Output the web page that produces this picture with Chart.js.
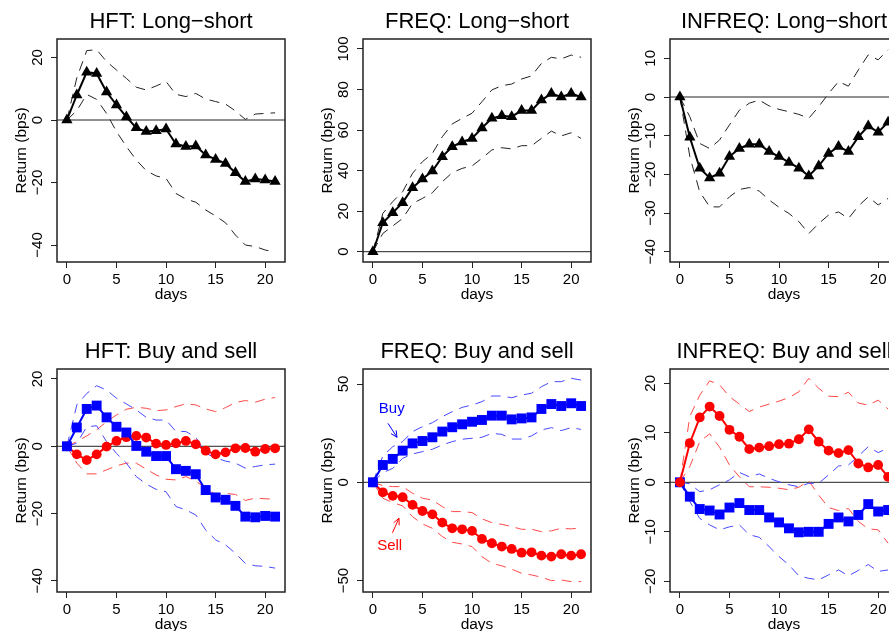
<!DOCTYPE html>
<html>
<head>
<meta charset="utf-8">
<script src="https://cdn.jsdelivr.net/npm/chart.js@4.4.1/dist/chart.umd.min.js"></script>
<style>
  html, body { margin: 0; padding: 0; background: #fff; overflow: hidden; }
  body { width: 889px; height: 631px; position: relative; }
  canvas { position: absolute; }
</style>
</head>
<body>
<canvas id="hftLS" width="300" height="320" style="left:0px;top:0px"></canvas>
<canvas id="freqLS" width="300" height="320" style="left:306px;top:0px"></canvas>
<canvas id="infreqLS" width="300" height="320" style="left:613px;top:0px"></canvas>
<canvas id="hftBS" width="300" height="301" style="left:0px;top:330px"></canvas>
<canvas id="freqBS" width="300" height="301" style="left:306px;top:330px"></canvas>
<canvas id="infreqBS" width="300" height="301" style="left:613px;top:330px"></canvas>
<script>
// days after the event
const days = [0, 1, 2, 3, 4, 5, 6, 7, 8, 9, 10, 11, 12, 13, 14, 15, 16, 17, 18, 19, 20, 21];
const dayTicks = [0, 5, 10, 15, 20];

// HFT: long-short (mean, upper and lower band)
const hftLS = [0, 8, 15.3, 14.9, 9, 4.8, 1, -2.5, -3.7, -3.4, -2.9, -7.7, -8.5, -8.3, -11.2, -12.6, -13.9, -16.9, -19.7, -18.9, -19.2, -19.7];
const hftLSUp = [0, 13.5, 22.2, 22.5, 18.7, 16, 13.3, 10.5, 9.6, 10.9, 12.3, 8.2, 7.5, 8.5, 6.7, 5.9, 5.1, 2.9, 0.2, 1.9, 2.1, 2.3];
const hftLSLo = [0, 3, 8.2, 6.6, 2.1, -3.7, -8.5, -12.8, -16.2, -17.9, -18.7, -23.5, -25.3, -26.3, -28.8, -30.7, -32.9, -36.8, -40, -40.5, -41.6, -42.3];
const hftLSTicks = [-40, -20, 0, 20];

// FREQ: long-short
const freqLS = [0, 14.3, 19.2, 24.2, 31.6, 35.9, 39.8, 46.9, 51.8, 54.1, 55.9, 61, 65.8, 67.1, 66.6, 69.6, 69.7, 74.8, 78, 76.3, 78, 76.3];
const freqLSUp = [0, 18.9, 24.7, 29.6, 38.7, 44.4, 48.5, 56.7, 63, 65.8, 68.3, 74, 79.8, 81.9, 82.7, 85.2, 86.7, 92.9, 95.9, 95.1, 97, 95.9];
const freqLSLo = [0, 9, 12.7, 16.4, 23.8, 26.3, 29.1, 34.5, 39, 41.1, 42.3, 46.1, 50.2, 51.3, 50.7, 52.3, 52.3, 55.9, 59.5, 57.1, 58.7, 55.9];
const freqLSTicks = [0, 20, 40, 60, 80, 100];

// INFREQ: long-short
const infreqLS = [0, -10.4, -18.4, -20.9, -19.7, -15.4, -13.3, -12.2, -12.2, -14.1, -15.4, -16.9, -18.4, -20.4, -17.8, -14.6, -12.8, -14.1, -10.3, -7.5, -9.1, -6.5];
const infreqLSUp = [0, -5.1, -12, -13.3, -11.1, -7.2, -3.4, -1.6, -0.8, -2.3, -3.2, -3.8, -4.5, -5.5, -2.5, 0.9, 4, 2.8, 7, 10.9, 9.6, 12.2];
const infreqLSLo = [0, -15.4, -24.5, -28.4, -28.4, -25.8, -23.9, -23.4, -24.3, -26.6, -28.5, -30.1, -32.2, -35.3, -32.7, -30.5, -29.7, -31.4, -28.2, -25.8, -27.9, -26.2];
const infreqLSTicks = [-40, -30, -20, -10, 0, 10];

// HFT: buy and sell
const hftBuy = [0, 5.6, 11.1, 12.1, 8.6, 5.8, 4.1, 0.1, -1.6, -2.9, -2.9, -6.8, -7.3, -8.3, -13, -15.2, -15.9, -17.7, -20.9, -21.1, -20.7, -20.9];
const hftBuyUp = [0, 12.3, 15.7, 18, 16.7, 14.3, 12.6, 10.8, 8.6, 7.8, 7.8, 4.4, 4.4, 2.7, -2.1, -3.4, -4.4, -5, -6.5, -6, -5.5, -5.3];
const hftBuyLo = [0, 0.9, 5.8, 6.1, 1.4, -2.1, -5, -9, -11.2, -12.8, -13.5, -17.9, -18.9, -20.4, -24.9, -27.8, -29.3, -31.8, -34.8, -35.5, -35.7, -36.2];
const hftSell = [0, -2.4, -4.1, -2.4, -0.1, 1.6, 2.7, 3.1, 2.6, 0.8, 0.4, 0.9, 1.6, 0.6, -1.3, -2.4, -1.8, -0.6, -0.5, -1.6, -0.8, -0.6];
const hftSellUp = [0, 1.4, 3.1, 4.9, 7.3, 9.3, 11, 11.6, 11.3, 10.6, 10.8, 11.8, 12.6, 12.3, 11.1, 10.3, 11.5, 13, 13.6, 13.1, 14, 14.5];
const hftSellLo = [0, -5, -8.2, -8.2, -7, -5.8, -5, -5, -6.8, -8.5, -9.8, -10, -9, -10.3, -12.5, -14.3, -14, -14.3, -16.1, -15.4, -15.6, -15.7];
const hftBSTicks = [-40, -20, 0, 20];

// FREQ: buy and sell
const freqBuy = [0, 8.8, 11.9, 16.1, 19.8, 21, 22.9, 25.8, 28, 29.5, 30.8, 31.7, 33.9, 33.9, 32, 32.5, 33, 37.3, 39.8, 38.8, 40.2, 38.8];
const freqBuyUp = [0, 13.4, 18.1, 20.7, 25.8, 28.3, 30.3, 33.4, 35.9, 38.1, 39.3, 41, 43.9, 43.9, 43, 44.4, 45.3, 48.6, 51.2, 51.2, 52.9, 52];
const freqBuyLo = [0, 4.9, 7.1, 12.2, 14.4, 15.6, 16.8, 19, 20.7, 21.9, 22.4, 22.9, 24.9, 24.4, 22, 22, 23.6, 26.6, 27.8, 26.3, 27.8, 26.9];
const freqSell = [0, -5.1, -6.9, -7.6, -11.5, -14.6, -16.3, -20.5, -23.4, -23.9, -24.7, -28.8, -31, -32.7, -33.9, -35.8, -35.6, -37.3, -37.8, -36.6, -37.3, -36.6];
const freqSellUp = [0, -1.7, -2.2, -2.2, -5.6, -8.1, -9, -12.4, -14.9, -14.9, -15.4, -18.6, -20.5, -21.4, -22.5, -23.9, -23.9, -25.1, -24.7, -23.4, -23.7, -23.1];
const freqSellLo = [0, -8.1, -10.3, -12, -17.5, -21.2, -23.4, -27.6, -30.5, -31.4, -32.7, -37.8, -41.2, -42.5, -44.2, -46.3, -47.1, -48.3, -50, -49.7, -50.5, -50.5];
const freqBSTicks = [-50, 0, 50];

// INFREQ: buy and sell
const infreqBuy = [0, -2.9, -5.4, -5.7, -6.5, -5.1, -4.2, -5.6, -5.6, -7.1, -8.1, -9.3, -10.1, -10, -10, -8.4, -7.1, -7.9, -6.6, -4.4, -5.9, -5.6];
const infreqBuyUp = [0, -0.3, -1.9, -1.5, -0.5, 0.5, 2, 1.1, 1.7, 0.8, 0.1, -0.5, -0.9, -0.2, -0.2, 1.5, 3.3, 3.5, 5.3, 7.2, 6, 6.9];
const infreqBuyLo = [0, -3.9, -7.3, -8.6, -9.6, -9, -8.6, -10.6, -11.1, -13, -15, -16.7, -18.9, -19.4, -19.7, -18.7, -17.7, -18.9, -17.8, -16.6, -18, -17.7];
const infreqSell = [0, 7.9, 13.1, 15.3, 13.4, 10.6, 9.2, 6.7, 7, 7.3, 7.7, 7.8, 8.7, 10.7, 8.2, 6.4, 5.9, 6.5, 3.8, 3, 3.5, 1.1];
const infreqSellUp = [0, 13.3, 17.6, 20.5, 19.7, 17.3, 15.8, 14.3, 15.2, 15.8, 16.4, 17.1, 18.3, 21, 19, 17.4, 17.3, 18.2, 16, 15.6, 16.6, 14.8];
const infreqSellLo = [0, 3.2, 8.2, 9.8, 7.1, 3.5, 1.1, -0.9, -0.9, -1, -1.2, -1.5, -1, 0.3, -2.6, -5.1, -5.7, -5.3, -7.9, -9.4, -9.6, -12.3];
const infreqBSTicks = [-20, -10, 0, 10, 20];

// labels with arrows in the FREQ buy/sell panel: [day, bps]
const buyNote = { text: 'Buy', at: [1.9, 35.3], from: [1.52, 30.0], to: [2.43, 22.9] };
const sellNote = { text: 'Sell', at: [1.69, -34.5], from: [1.97, -25.7], to: [2.63, -18.3] };

const FONT = '"Liberation Sans", Arial, Helvetica, sans-serif';
Chart.defaults.font.family = FONT;

const minus = v => (v < 0 ? '\u2212' + Math.abs(v) : String(v));
const pts = vals => days.map((d, i) => ({ x: d, y: vals[i] }));

// R-like box, title, axis labels, rotated y tick labels, zero line
const rPlot = {
  id: 'rPlot',
  beforeDatasetsDraw(chart, args, opts) {
    const { ctx, chartArea: a, scales: { y } } = chart;
    const y0 = y.getPixelForValue(0);
    ctx.save();
    ctx.strokeStyle = '#222';
    ctx.lineWidth = 1;
    ctx.beginPath();
    ctx.moveTo(a.left, y0);
    ctx.lineTo(a.right, y0);
    ctx.stroke();
    ctx.restore();
  },
  afterDraw(chart, args, opts) {
    const { ctx, chartArea: a, scales: { x, y } } = chart;
    const cx = (a.left + a.right) / 2;
    ctx.save();
    ctx.strokeStyle = '#222';
    ctx.lineWidth = 1.5;
    ctx.strokeRect(a.left, a.top, a.right - a.left, a.bottom - a.top);

    ctx.fillStyle = '#000';
    ctx.textAlign = 'center';
    ctx.textBaseline = 'alphabetic';
    ctx.font = '22px ' + FONT;
    ctx.fillText(opts.title, cx, a.top - 10.7);

    ctx.font = '15.5px ' + FONT;
    ctx.fillText('days', cx, a.bottom + 37.3);

    ctx.save();
    ctx.translate(a.left - 31, (a.top + a.bottom) / 2);
    ctx.rotate(-Math.PI / 2);
    ctx.fillText('Return (bps)', 0, 0);
    ctx.restore();

    ctx.font = '15px ' + FONT;
    for (const t of y.ticks) {
      ctx.save();
      ctx.translate(a.left - 15.3, y.getPixelForValue(t.value));
      ctx.rotate(-Math.PI / 2);
      ctx.fillText(minus(t.value), 0, 0);
      ctx.restore();
    }

    for (const n of opts.notes || []) {
      ctx.fillStyle = n.color;
      ctx.strokeStyle = n.color;
      ctx.font = '15px ' + FONT;
      ctx.fillText(n.text, x.getPixelForValue(n.at[0]), y.getPixelForValue(n.at[1]));
      const x1 = x.getPixelForValue(n.from[0]), y1 = y.getPixelForValue(n.from[1]);
      const x2 = x.getPixelForValue(n.to[0]), y2 = y.getPixelForValue(n.to[1]);
      const ang = Math.atan2(y2 - y1, x2 - x1);
      ctx.lineWidth = 1;
      ctx.beginPath();
      ctx.moveTo(x1, y1);
      ctx.lineTo(x2, y2);
      ctx.moveTo(x2 - 7 * Math.cos(ang - 0.45), y2 - 7 * Math.sin(ang - 0.45));
      ctx.lineTo(x2, y2);
      ctx.lineTo(x2 - 7 * Math.cos(ang + 0.45), y2 - 7 * Math.sin(ang + 0.45));
      ctx.stroke();
    }
    ctx.restore();
  }
};

function mean(vals, color, style, radius) {
  return {
    data: pts(vals), borderColor: color, borderWidth: 2, backgroundColor: color,
    pointStyle: style, pointRadius: radius, pointBackgroundColor: color,
    pointBorderWidth: 0, tension: 0, order: 0
  };
}

function band(vals, color) {
  return {
    data: pts(vals), borderColor: color, borderWidth: 1, borderDash: [10, 7],
    pointRadius: 0, tension: 0, order: 1
  };
}

function panel(id, title, yMin, yMax, yTicks, datasets, notes) {
  const cv = document.getElementById(id);
  const xHeight = cv.height - 262;
  return new Chart(cv, {
    type: 'line',
    data: { datasets },
    plugins: [rPlot],
    options: {
      responsive: false,
      animation: false,
      devicePixelRatio: 1,
      layout: { padding: { left: 0, top: 39, right: 15, bottom: 0 } },
      plugins: {
        legend: { display: false },
        tooltip: { enabled: false },
        rPlot: { title, notes }
      },
      scales: {
        x: {
          type: 'linear', min: -1, max: 22,
          afterBuildTicks: s => { s.ticks = dayTicks.map(v => ({ value: v })); },
          afterFit: s => { s.height = xHeight; },
          grid: { drawOnChartArea: false, drawTicks: true, tickLength: 6, color: '#222' },
          border: { display: false },
          ticks: { color: '#000', font: { size: 15 }, padding: 3, autoSkip: false, maxRotation: 0 }
        },
        y: {
          type: 'linear', min: yMin, max: yMax,
          afterBuildTicks: s => { s.ticks = yTicks.map(v => ({ value: v })); },
          afterFit: s => { s.width = 57; },
          grid: { drawOnChartArea: false, drawTicks: true, tickLength: 6, color: '#222' },
          border: { display: false },
          ticks: { display: false }
        }
      }
    }
  });
}

const BLACK = '#000000', BLUE = '#0000ff', RED = '#ff0000';
const BAND_K = '#222222', BAND_B = '#4848ff', BAND_R = '#ff4848';

panel('hftLS', 'HFT: Long\u2212short', -45.44, 25.92, hftLSTicks, [
  mean(hftLS, BLACK, 'triangle', 6.5), band(hftLSUp, BAND_K), band(hftLSLo, BAND_K)
]);
panel('freqLS', 'FREQ: Long\u2212short', -5.08, 104.93, freqLSTicks, [
  mean(freqLS, BLACK, 'triangle', 6.5), band(freqLSUp, BAND_K), band(freqLSLo, BAND_K)
]);
panel('infreqLS', 'INFREQ: Long\u2212short', -42.64, 14.99, infreqLSTicks, [
  mean(infreqLS, BLACK, 'triangle', 6.5), band(infreqLSUp, BAND_K), band(infreqLSLo, BAND_K)
]);
panel('hftBS', 'HFT: Buy and sell', -43.3, 22.97, hftBSTicks, [
  mean(hftBuy, BLUE, 'rect', 7), mean(hftSell, RED, 'circle', 4.9),
  band(hftBuyUp, BAND_B), band(hftBuyLo, BAND_B), band(hftSellUp, BAND_R), band(hftSellLo, BAND_R)
]);
panel('freqBS', 'FREQ: Buy and sell', -55.8, 57.63, freqBSTicks, [
  mean(freqBuy, BLUE, 'rect', 7), mean(freqSell, RED, 'circle', 4.9),
  band(freqBuyUp, BAND_B), band(freqBuyLo, BAND_B), band(freqSellUp, BAND_R), band(freqSellLo, BAND_R)
], [
  Object.assign({ color: BLUE }, buyNote), Object.assign({ color: RED }, sellNote)
]);
panel('infreqBS', 'INFREQ: Buy and sell', -22.16, 22.89, infreqBSTicks, [
  mean(infreqSell, RED, 'circle', 4.9), mean(infreqBuy, BLUE, 'rect', 7),
  band(infreqBuyUp, BAND_B), band(infreqBuyLo, BAND_B), band(infreqSellUp, BAND_R), band(infreqSellLo, BAND_R)
]);
</script>
</body>
</html>
